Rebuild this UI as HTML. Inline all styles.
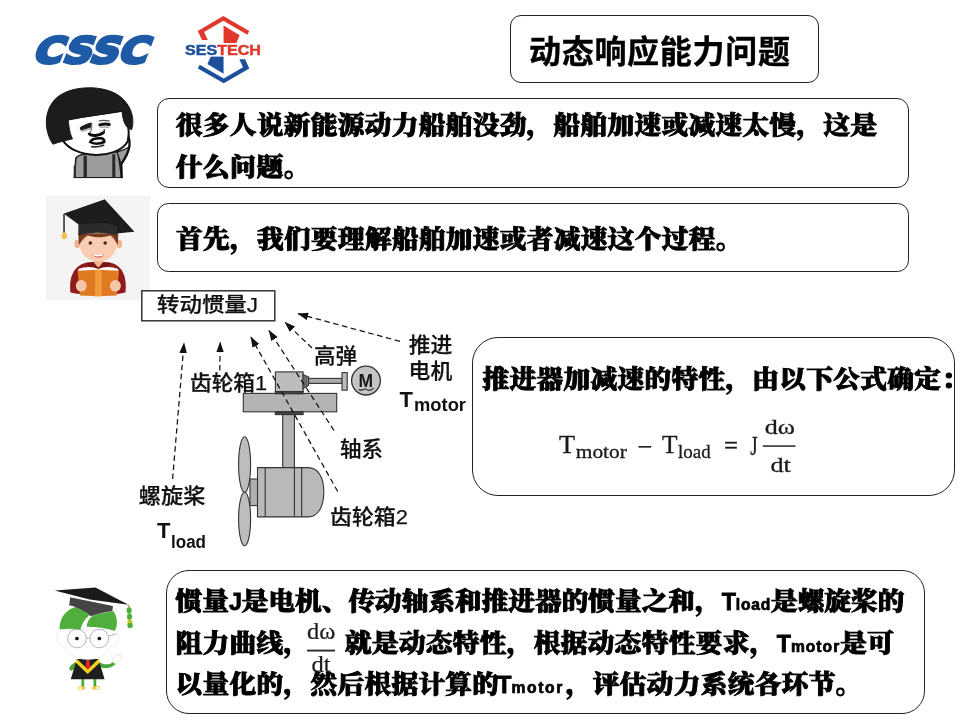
<!DOCTYPE html>
<html lang="zh-CN">
<head>
<meta charset="utf-8">
<title>动态响应能力问题</title>
<style>
html,body{margin:0;padding:0;background:#fff;}
body{width:960px;height:720px;position:relative;overflow:hidden;font-family:"Liberation Sans","Noto Sans CJK SC",sans-serif;color:#000;}
.box{position:absolute;box-sizing:border-box;border:1.3px solid #222;background:#fff;}
.serif{font-family:"Liberation Serif","Noto Serif CJK SC",serif;font-weight:900;-webkit-text-stroke:0.95px #000;}
.t{position:absolute;white-space:nowrap;}
#title{left:510px;top:15px;width:309px;height:68px;border-radius:11px;}
#ttl{left:529px;top:30.5px;font-size:32px;font-weight:700;line-height:42px;letter-spacing:0.7px;-webkit-text-stroke:0.4px #000;}
#b1{left:157px;top:98px;width:752px;height:89.5px;border-radius:12px;}
#b2{left:157px;top:203px;width:752px;height:69px;border-radius:11.5px;}
#b3{left:472.3px;top:337px;width:483px;height:158.5px;border-radius:26px;}
#b4{left:165.5px;top:570px;width:759px;height:143.5px;border-radius:23px;}
.body{font-size:26.67px;line-height:42px;letter-spacing:0.33px;transform:scaleY(0.93);transform-origin:0 50%;}
.lt{font-family:"Liberation Sans",sans-serif;font-weight:700;font-size:23.2px;letter-spacing:0;-webkit-text-stroke:0.8px #000;display:inline-block;transform:scaleY(1.075);transform-origin:0 78%;position:relative;top:0.8px;}
.lt.sub{font-size:15.6px;letter-spacing:0.45px;-webkit-text-stroke:0.7px #000;}
.frac{-webkit-text-stroke:0.25px #222;display:inline-block;position:relative;width:28.4px;height:42px;vertical-align:top;margin-left:-3.5px;margin-right:9.6px;font-family:"Liberation Serif",serif;font-weight:400;font-size:24.5px;letter-spacing:0;color:#1c1c1c;}
.frac .num{position:absolute;left:-2px;top:-3.5px;width:32.4px;text-align:center;line-height:24px;}
.frac .den{position:absolute;left:-2px;top:31.7px;width:32.4px;text-align:center;line-height:24px;}
.frac .bar{position:absolute;left:0;top:28.3px;width:100%;height:1.4px;background:#2a2a2a;}
svg{position:absolute;left:0;top:0;}
#wrap{position:absolute;left:0;top:0;width:960px;height:720px;will-change:transform;}
</style>
</head>
<body>
<div id="wrap">
<div class="box" id="title"></div>
<div class="box" id="b1"></div>
<div class="box" id="b2"></div>
<div class="box" id="b3"></div>
<div class="box" id="b4"></div>
<div class="t" id="ttl">动态响应能力问题</div>
<div class="t serif body" style="left:175.8px;top:104.5px;">很多人说新能源动力船舶没劲，船舶加速或减速太慢，这是</div>
<div class="t serif body" style="left:175.8px;top:146.5px;">什么问题。</div>
<div class="t serif body" style="left:176px;top:218.6px;">首先，我们要理解船舶加速或者减速这个过程。</div>
<div class="t serif body" style="left:482.5px;top:359.3px;">推进器加减速的特性，由以下公式确定：</div>
<div class="t serif body" style="left:175.6px;top:580.2px;letter-spacing:0;">惯量<span class="lt">J</span>是电机、传动轴系和推进器的惯量之和，<span class="lt">T</span><span class="lt sub" style="letter-spacing:0.8px;">load</span>是螺旋桨的</div>
<div class="t serif body" style="left:175.5px;top:622px;z-index:3;">阻力曲线，<span class="frac"><span class="num">dω</span><span class="bar"></span><span class="den">dt</span></span>就是动态特性，根据动态特性要求，<span class="lt">T</span><span class="lt sub" style="letter-spacing:1.05px;">motor</span>是可</div>
<div class="t serif body" style="left:175.5px;top:663px;">以量化的，然后根据计算的<span class="lt" style="margin-left:-2px;">T</span><span class="lt sub" style="letter-spacing:1.65px;margin-right:1.8px;">motor</span>，评估动力系统各环节。</div>
<svg id="logos" width="960" height="720" viewBox="0 0 960 720">
<!-- CSSC -->
<g transform="translate(31.5,63.4) skewX(-21)">
<text x="0" y="0" font-family="DejaVu Sans, Liberation Sans, sans-serif" font-weight="bold" font-size="36" fill="#1f5aa6" stroke="#1f5aa6" stroke-width="3.2" stroke-linejoin="miter" textLength="114" lengthAdjust="spacingAndGlyphs">CSSC</text>
</g>
<!-- SESTECH -->
<g transform="translate(175,10) scale(0.11111)">
<g fill="#e0382c">
<polygon points="205,188 435,55 668,188 652,222 435,97 262,198 295,270 243,270"/>
<polygon points="437,140 582,228 548,305 437,305"/>
</g>
<g fill="#1c4f9c" transform="rotate(180 437 357)">
<polygon points="205,188 435,55 668,188 652,222 435,97 262,198 295,270 243,270"/>
<polygon points="437,140 582,228 548,305 437,305"/>
</g>
</g>
<rect x="183" y="43" width="80" height="13.6" fill="#fff"/>
<text x="185" y="55.3" font-family="Liberation Sans, sans-serif" font-weight="bold" font-size="15" textLength="76" lengthAdjust="spacingAndGlyphs" stroke-width="0.5"><tspan fill="#1c4f9c" stroke="#1c4f9c">SES</tspan><tspan fill="#e0382c" stroke="#e0382c">TECH</tspan></text>
</svg>

<svg id="av1" width="960" height="720" viewBox="0 0 960 720">
<g transform="translate(30,80) scale(0.1529)">
<!-- body -->
<path d="M290,640 L300,510 C320,485 380,478 440,482 L575,470 L600,640 Z" fill="#9c9c9c" stroke="#1a1a1a" stroke-width="10"/>
<path d="M570,472 C600,462 625,452 648,438 C645,480 615,530 597,552 Z" fill="#9c9c9c" stroke="#1a1a1a" stroke-width="8"/>
<path d="M628,335 C655,370 655,430 645,455 C635,495 610,525 597,550 L600,640" fill="none" stroke="#111" stroke-width="15" stroke-linecap="round" stroke-linejoin="round"/>
<rect x="350" y="495" width="22" height="150" fill="#2a2a2a"/>
<rect x="538" y="485" width="20" height="160" fill="#2a2a2a"/>
<rect x="286" y="560" width="14" height="85" fill="#2a2a2a"/>
<rect x="280" y="642" width="330" height="14" fill="#fff"/>
<!-- face -->
<path d="M245,255 L605,200 C640,250 655,330 640,400 C600,470 500,492 430,490 C330,488 250,450 215,395 Z" fill="#fff" stroke="#111" stroke-width="13"/>
<!-- hair -->
<path d="M150,420 C95,340 85,210 165,125 C250,38 455,28 565,92 C655,145 690,245 665,325 C625,315 607,270 602,205 C490,225 370,235 250,262 C255,320 265,360 278,385 C240,395 190,405 150,420 Z" fill="#1c1c1c" stroke="#111" stroke-width="6" stroke-linejoin="round"/>
<!-- features -->
</g>
<g fill="none" stroke-linecap="round">
<path d="M80.2,128 C83,125.6 87,124 91.2,123 L90.8,127 C87.5,127.8 84.5,128.9 81.2,130 Z" fill="#1c1c1c" stroke="#1a1a1a" stroke-width="1.1" stroke-linejoin="round"/>
<path d="M82,131 C85,130.6 88,129.6 90.5,128.6" stroke="#aaa" stroke-width="1.6"/>
<path d="M99.2,121 C102,120.1 106,120.2 109.2,121.2" stroke="#555" stroke-width="1.3"/>
<path d="M99.8,124.9 C103,124 106,123.8 109.3,124.4" stroke="#111" stroke-width="3"/>
<path d="M100.5,127.3 C103.5,126.9 106,126.9 108.6,127.3" stroke="#aaa" stroke-width="1.5"/>
<path d="M91.8,123.5 C92.2,127.5 91.2,131 89.8,133.4" stroke="#777" stroke-width="1.1"/>
<path d="M89.3,134 C92,136.4 98.5,136 103.3,132.7" stroke="#0a0a0a" stroke-width="3"/>
<path d="M103.3,132.7 C104.4,132 104.6,130.8 104.2,129.8" stroke="#222" stroke-width="1.4"/>
<path d="M90.2,142 C91.6,139.1 96,138 102,138.4 C103.8,139.3 104.5,140.8 104.2,142 C100,143.9 94,144.3 90.2,142 Z" fill="#f4f4f4" stroke="#0a0a0a" stroke-width="2.6"/>
<path d="M91.8,146.6 C95,147.1 100,146.6 103.6,145.2" stroke="#333" stroke-width="1.6"/>
</g>
</svg>

<svg id="av2" width="960" height="720" viewBox="0 0 960 720">
<g transform="translate(40,190) scale(0.15974)">
<rect x="35" y="35" width="655" height="655" fill="#f4f4f5"/>
<!-- body -->
<path d="M190,640 C180,540 215,470 290,455 L345,450 L390,450 L440,455 C515,470 545,540 535,640 C500,660 230,660 190,640 Z" fill="#8e1c1c"/>
<!-- neck -->
<path d="M335,425 L395,425 L395,460 L365,485 L335,460 Z" fill="#f2b594"/>
<!-- collar -->
<path d="M290,455 L335,450 L365,490 L395,450 L440,455 L420,490 L365,500 L310,490 Z" fill="#7a1515"/>
<!-- book pages -->
<path d="M240,495 C280,478 330,478 365,495 C400,478 450,478 490,495 L490,520 L240,520 Z" fill="#fff"/>
<!-- book -->
<path d="M235,505 L365,500 L495,505 L480,660 L365,665 L250,660 Z" fill="#e07a22"/>
<path d="M345,500 L385,500 L385,665 L345,665 Z" fill="#f29a3a"/>
<!-- hands -->
<ellipse cx="258" cy="600" rx="34" ry="36" fill="#f7c6a8"/>
<ellipse cx="472" cy="600" rx="34" ry="36" fill="#f7c6a8"/>
<!-- ears -->
<ellipse cx="233" cy="338" rx="18" ry="26" fill="#f2b594"/>
<ellipse cx="497" cy="338" rx="18" ry="26" fill="#f2b594"/>
<!-- face -->
<path d="M245,290 L485,290 C492,380 450,445 365,448 C280,445 238,380 245,290 Z" fill="#f9cdb1"/>
<!-- hair -->
<path d="M240,270 L490,270 L488,345 C470,320 465,300 440,285 C400,300 340,300 300,285 C270,300 262,320 243,345 Z" fill="#7b3b1f"/>
<!-- eyes -->
<circle cx="315" cy="332" r="11" fill="#3a2a25"/>
<circle cx="408" cy="332" r="11" fill="#3a2a25"/>
<!-- mouth -->
<path d="M325,400 C350,410 380,410 403,400 C395,430 335,430 325,400 Z" fill="#d8463a"/>
<path d="M330,401 C350,409 380,409 398,401 L394,412 C375,417 350,417 334,412 Z" fill="#fff"/>
<!-- cap -->
<path d="M240,200 L480,195 L482,285 C400,262 320,262 240,285 Z" fill="#2b2b2d"/>
<polygon points="150,148 405,60 590,262 478,272 478,200 240,215" fill="#1d1d1f"/>
<polygon points="150,148 405,60 590,262 330,180" fill="#1d1d1f"/>
<rect x="146" y="150" width="9" height="120" fill="#222"/>
<ellipse cx="152" cy="287" rx="17" ry="22" fill="#f0c050"/>
</g>
</svg>

<svg id="av3" width="960" height="720" viewBox="0 0 960 720">
<g transform="translate(40,570) scale(0.19455)">
<!-- arms -->
<path d="M190,470 C165,480 150,495 150,510 C155,520 165,520 180,505 Z" fill="#4aa83a"/>
<path d="M300,470 C330,490 355,490 380,470 L388,485 C360,510 325,510 300,495 Z" fill="#4aa83a"/>
<path d="M375,470 C372,450 385,440 410,435 C425,440 425,455 405,470 C395,485 382,485 375,470 Z" fill="#fff" stroke="#ccc" stroke-width="3"/>
<!-- legs -->
<rect x="213" y="555" width="14" height="45" fill="#4aa83a"/>
<rect x="275" y="555" width="14" height="45" fill="#4aa83a"/>
<ellipse cx="213" cy="606" rx="20" ry="10" fill="#f2c230"/>
<ellipse cx="288" cy="606" rx="20" ry="10" fill="#f2c230"/>
<ellipse cx="207" cy="607" rx="9" ry="6" fill="#fff"/>
<ellipse cx="294" cy="607" rx="9" ry="6" fill="#fff"/>
<!-- gown -->
<path d="M190,458 L300,458 L332,562 L158,562 Z" fill="#1e1e1e"/>
<path d="M190,458 L245,510 L300,458 L308,475 L245,535 L183,475 Z" fill="#f2d21e"/>
<path d="M238,462 L254,462 L258,500 L246,512 L234,500 Z" fill="#d8262c"/>
<!-- face -->
<path d="M85,350 C85,320 110,305 135,305 L370,305 C395,310 410,330 405,355 C400,380 380,390 365,392 C340,440 290,460 245,460 C200,460 150,440 128,395 C105,392 85,375 85,350 Z" fill="#fff" stroke="#e4e4e4" stroke-width="3"/>
<!-- hair -->
<path d="M100,305 C100,240 140,195 200,188 L255,232 C225,255 212,285 208,308 C170,300 135,300 100,305 Z" fill="#4fae3c"/>
<path d="M240,292 C243,255 265,232 300,225 L378,212 C402,250 398,290 385,312 C340,298 285,292 240,292 Z" fill="#4fae3c"/>
<!-- glasses -->
<circle cx="190" cy="352" r="48" fill="#fff" fill-opacity="0.6" stroke="#9a8fa0" stroke-width="3.5"/>
<circle cx="305" cy="352" r="48" fill="#fff" fill-opacity="0.6" stroke="#9a8fa0" stroke-width="3.5"/>
<path d="M238,350 L257,350" stroke="#9a8fa0" stroke-width="3.5"/>
<path d="M352,340 L395,328" stroke="#9a8fa0" stroke-width="3.5"/>
<circle cx="190" cy="352" r="9.5" fill="#111"/>
<circle cx="305" cy="352" r="9.5" fill="#111"/>
<!-- cap -->
<path d="M155,140 L375,185 L372,212 C340,215 290,225 262,238 C225,205 180,185 150,182 Z" fill="#454545"/>
<polygon points="75,105 285,90 455,178 255,152" fill="#1a1a1a"/>
<!-- tassel -->
<path d="M455,178 L460,200" stroke="#6a8a2a" stroke-width="5"/>
<ellipse cx="458" cy="208" rx="13" ry="16" fill="#4fae3c"/>
<ellipse cx="460" cy="240" rx="13" ry="16" fill="#4fae3c"/>
<ellipse cx="462" cy="268" rx="13" ry="14" fill="#c8c820"/>
<ellipse cx="463" cy="285" rx="14" ry="14" fill="#4fae3c"/>
</g>
</svg>

<svg id="diagram" width="960" height="720" viewBox="0 0 960 720" font-family="Liberation Sans, Noto Sans CJK SC, sans-serif">
<defs>
<marker id="ah" viewBox="0 0 11 7.6" refX="10" refY="3.8" markerWidth="11" markerHeight="7.6" markerUnits="userSpaceOnUse" orient="auto"><path d="M0,0 L11,3.8 L0,7.6 Z" fill="#111"/></marker>
</defs>
<!-- label box -->
<rect x="141.8" y="290.8" width="133" height="30" fill="#fff" stroke="#333" stroke-width="1.5"/>
<text x="157" y="312.4" font-size="20.4" font-weight="500" fill="#111" stroke="#111" stroke-width="0.25" textLength="101" lengthAdjust="spacingAndGlyphs">转动惯量J</text>
<!-- machine -->
<g stroke="#333" stroke-width="1.1" fill="#b9b9b9">
<ellipse cx="244.6" cy="464.5" rx="6" ry="27.7" fill="#bdbdbd"/>
<ellipse cx="244.6" cy="519" rx="6" ry="26.8" fill="#bdbdbd"/>
<rect x="250" y="479" width="7.9" height="26.6" fill="#b0b0b0"/>
<rect x="282.7" y="414" width="11.7" height="54" fill="#b4b4b4"/>
<path d="M257.5,467.6 L308,467.6 C318,467.6 323.8,477 323.8,492 C323.8,507 318,516.9 308,516.9 L257.5,516.9 Z"/>
<path d="M265.2,467.6 V516.9 M294.4,467.6 V516.9 M301.7,467.6 V516.9" fill="none"/>
<rect x="243.3" y="393.4" width="93.4" height="18.4" fill="#b4b4b4"/>
<rect x="275.4" y="391.2" width="27.7" height="2.6" fill="#444"/>
<rect x="275.4" y="411.8" width="27.7" height="2.8" fill="#444"/>
<rect x="275.4" y="371.9" width="27.7" height="19.6" fill="#bcbcbc"/>
<path d="M303.1,374.5 L308.6,377 L308.6,385.5 L303.1,388.5 Z" fill="#999"/>
<path d="M304.9,375.3 V387.6 M306.7,376.1 V386.6" fill="none" stroke-width="0.8"/>
<rect x="308.6" y="378.4" width="33.6" height="5" fill="#aaa"/>
<rect x="342" y="372.6" width="5.2" height="17.6" fill="#bbb"/>
<circle cx="366" cy="380.6" r="14.4" fill="#c4c4c4" stroke-width="1.3"/>
</g>
<text x="358.4" y="386.6" font-size="17.5" fill="#1a1a1a" font-weight="700">M</text>
<path d="M358.8,389.2 C361,392.4 364,387.2 367,389.6 C369.5,391.4 371.8,390 373.6,388.2" fill="none" stroke="#222" stroke-width="1.1"/>
<!-- arrows -->
<g stroke="#111" stroke-width="1.25" stroke-dasharray="5.5,3.6" fill="none" marker-end="url(#ah)">
<path d="M400,341.4 L298.2,313.8"/>
<path d="M312,348 L285.3,322.4"/>
<path d="M334,430.5 L269.1,330.7"/>
<path d="M337.7,491.5 L251,337.2"/>
<path d="M219.8,370.5 L220.2,342.4"/>
<path d="M172.6,479 L184,343.2"/>
</g>
<!-- labels -->
<g font-size="21" font-weight="500" fill="#111" stroke="#111" stroke-width="0.25">
<text x="314" y="363" textLength="43" lengthAdjust="spacingAndGlyphs">高弹</text>
<text x="408.8" y="352" textLength="43.6" lengthAdjust="spacingAndGlyphs">推进</text>
<text x="408.6" y="378.3" textLength="43.6" lengthAdjust="spacingAndGlyphs">电机</text>
<text x="340" y="455.5" textLength="43" lengthAdjust="spacingAndGlyphs">轴系</text>
<text x="330" y="523.5" textLength="78" lengthAdjust="spacingAndGlyphs">齿轮箱2</text>
<text x="190" y="389.5" textLength="77" lengthAdjust="spacingAndGlyphs">齿轮箱1</text>
<text x="138.8" y="502.5" textLength="66.5" lengthAdjust="spacingAndGlyphs">螺旋桨</text>
</g>
<g font-weight="bold" fill="#111">
<text x="399.6" y="406.8" font-size="22">T</text>
<text x="414" y="411" font-size="17.5" textLength="52" lengthAdjust="spacingAndGlyphs">motor</text>
<text x="157" y="537.6" font-size="22">T</text>
<text x="171" y="548" font-size="17.5" textLength="35" lengthAdjust="spacingAndGlyphs">load</text>
</g>
</svg>

<svg id="formula" width="960" height="720" viewBox="0 0 960 720" font-family="Liberation Serif, serif" fill="#1a1a1a" stroke="#1a1a1a" stroke-width="0.3">
<text x="559" y="452.6" font-size="24.5" textLength="16" lengthAdjust="spacingAndGlyphs">T</text>
<text x="575.8" y="458.3" font-size="19" textLength="51" lengthAdjust="spacingAndGlyphs">motor</text>
<text x="637.5" y="454.8" font-size="24.5" textLength="15" lengthAdjust="spacingAndGlyphs">−</text>
<text x="662" y="452.6" font-size="24.5" textLength="15.5" lengthAdjust="spacingAndGlyphs">T</text>
<text x="678" y="458.3" font-size="19" textLength="32.6" lengthAdjust="spacingAndGlyphs">load</text>
<text x="724" y="454.4" font-size="24.5" textLength="14" lengthAdjust="spacingAndGlyphs">=</text>
<text x="750.2" y="455.2" font-size="27.5" textLength="7.4" lengthAdjust="spacingAndGlyphs">J</text>
<rect x="763" y="445.5" width="32.4" height="1.2" fill="#222"/>
<text x="764.8" y="433.6" font-size="21.5" textLength="30.2" lengthAdjust="spacingAndGlyphs">dω</text>
<text x="770.4" y="471.6" font-size="21.5" textLength="20.4" lengthAdjust="spacingAndGlyphs">dt</text>
</svg>
</div>
</body>
</html>
